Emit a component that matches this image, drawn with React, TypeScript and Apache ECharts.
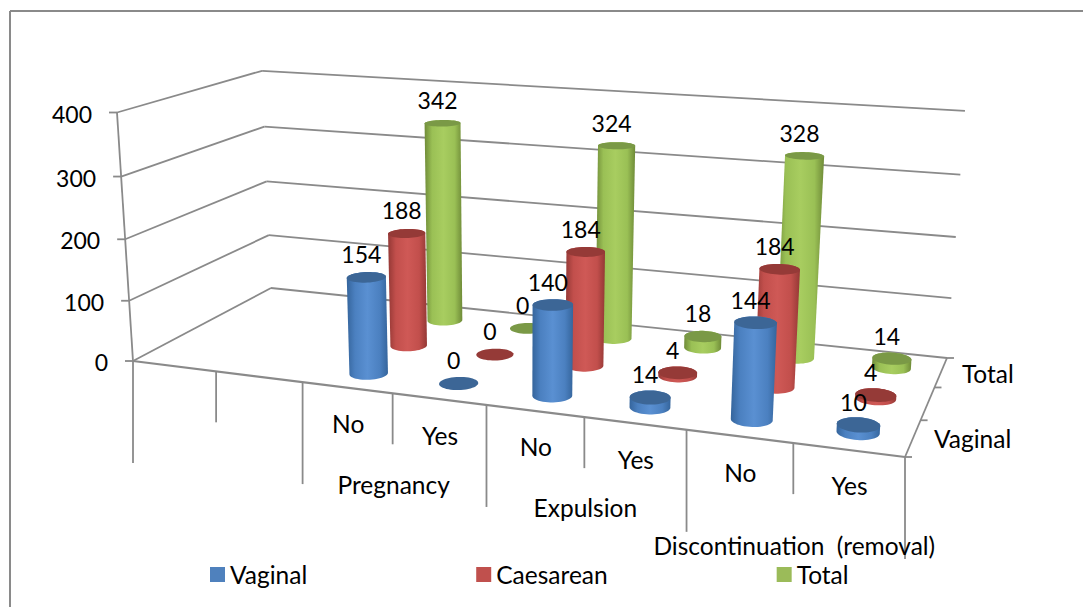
import React, { useEffect, useRef } from "react";
import * as echarts from "echarts";

const categories = ["", "", "No", "Yes", "No", "Yes", "No", "Yes"];
const groups = ["", "Pregnancy", "Expulsion", "Discontinuation  (removal)"];
const seriesNames = ["Vaginal", "Caesarean", "Total"];
const vaginal = [null, null, 154, 0, 140, 14, 144, 10];
const caesarean = [null, null, 188, 0, 184, 4, 184, 4];
const total = [null, null, 342, 0, 324, 18, 328, 14];
const valueTicks = [0, 100, 200, 300, 400];
const depthLabels = ["Vaginal", "", "Total"];

const W = 1083;
const H = 607;
const FONT = "Lato";
const FS = 24.5;
const FS_NUM = 23;
const LINE = "#8a8a8a";
const COLORS = ["#4F81BD", "#C0504D", "#9BBB59"];
const SHADES = [
  { edge: "#35659c", mid: "#4b80c0", light: "#5a90d2", top: "#3c6696" },
  { edge: "#943835", mid: "#c24f4c", light: "#cf5956", top: "#953a37" },
  { edge: "#6f8b38", mid: "#9ac055", light: "#a8cd60", top: "#7a9946" },
];

// Perspective of the 3D box: u along categories, v in depth, w up the value axis (all 0..1)
const P = { x0: 133, y0: 361, xU: 905, yU: 457, xV: 271, yV: 288, xW: 117, yW: 112.5, g: -0.1554, h: 0.1517, i: -0.04 };
function project(u: number, v: number, w: number): [number, number] {
  const { x0, y0, xU, yU, xV, yV, xW, yW, g, h, i } = P;
  const d = 1 + g * u + h * v + i * w;
  const x = x0 + (xU * (1 + g) - x0) * u + (xV * (1 + h) - x0) * v + (xW * (1 + i) - x0) * w;
  const y = y0 + (yU * (1 + g) - y0) * u + (yV * (1 + h) - y0) * v + (yW * (1 + i) - y0) * w;
  return [x / d, y / d + 2.5 * u * v * w];
}

function hull(pts: number[][]) {
  const s = [...pts].sort((a, b) => a[0] - b[0] || a[1] - b[1]);
  const cross = (o: number[], a: number[], b: number[]) => (a[0] - o[0]) * (b[1] - o[1]) - (a[1] - o[1]) * (b[0] - o[0]);
  const lo: number[][] = [];
  for (const p of s) {
    while (lo.length >= 2 && cross(lo[lo.length - 2], lo[lo.length - 1], p) <= 0) lo.pop();
    lo.push(p);
  }
  const up: number[][] = [];
  for (const p of s.slice().reverse()) {
    while (up.length >= 2 && cross(up[up.length - 2], up[up.length - 1], p) <= 0) up.pop();
    up.push(p);
  }
  return lo.slice(0, -1).concat(up.slice(0, -1));
}

const RU = 0.0245;
const RV = 0.068;
function disc(u: number, v: number, w: number) {
  const pts: number[][] = [];
  for (let k = 0; k < 48; k++) {
    const t = (k / 48) * Math.PI * 2;
    pts.push(project(u + RU * Math.cos(t), v + RV * Math.sin(t), w));
  }
  return pts;
}

function toUW(api: any, idx: number, value: number) {
  const p = api.coord([idx, value]);
  return { u: p[0] / W, w: 1 - p[1] / H };
}

function cylinderSeries(s: number, values: (number | null)[]) {
  const v = (s + 0.5) / 3;
  const shade = SHADES[s];
  return {
    type: "custom",
    name: seriesNames[s],
    coordinateSystem: "cartesian2d",
    z: 5 - s,
    itemStyle: { color: COLORS[s] },
    silent: true,
    data: values.map((val, i) => [i, val]),
    encode: { x: 0, y: 1 },
    renderItem: (_: any, api: any) => {
      const val = api.value(1);
      if (val === null || val === undefined || isNaN(val)) return { type: "group", children: [] };
      const { u, w } = toUW(api, api.value(0), val);
      const base = disc(u, v, 0);
      const top = disc(u, v, w);
      const children: any[] = [];
      if (val > 0) {
        const rimB = base.map((p) => [p[0], p[1] + 0.8]);
        children.push({
          type: "polygon",
          shape: { points: hull(rimB.concat(top)) },
          style: {
            fill: new echarts.graphic.LinearGradient(0, 0, 1, 0, [
              { offset: 0, color: shade.edge },
              { offset: 0.2, color: shade.mid },
              { offset: 0.5, color: shade.light },
              { offset: 0.8, color: shade.mid },
              { offset: 1, color: shade.edge },
            ]),
          },
        });
      }
      children.push({ type: "polygon", shape: { points: top }, style: { fill: shade.top } });
      return { type: "group", children };
    },
  };
}

const seriesValues = [vaginal, caesarean, total];
const labelData: number[][] = [];
seriesValues.forEach((vals, s) =>
  vals.forEach((val, i) => {
    if (val !== null) labelData.push([i, val, s]);
  })
);

function line(a: [number, number], b: [number, number], width = 1.8) {
  return {
    type: "line",
    z: 0,
    silent: true,
    shape: { x1: a[0], y1: a[1], x2: b[0], y2: b[1] },
    style: { stroke: LINE, lineWidth: width },
  };
}
function text(str: string, x: number, y: number, align: string, size = FS) {
  return {
    type: "text",
    z: 1,
    silent: true,
    x,
    y,
    style: { text: str, font: `${size}px ${FONT}`, fill: "#000", align, verticalAlign: "middle" },
  };
}

function buildGraphic() {
  const els: any[] = [];
  // outer frame: only top and left edges show
  els.push(line([10, 11], [W, 11], 2));
  els.push(line([10, 11], [10, H], 2));

  // walls
  valueTicks.forEach((t) => {
    const w = t / 400;
    const a = project(0, 0, w);
    const b = project(0, 1, w);
    const c = project(1, 1, w);
    els.push(line(a, b), line(b, c));
    els.push(line([a[0] - 8, a[1]], a));
    els.push(text(String(t), a[0] - 25, a[1] + 1, "right", FS_NUM));
  });
  els.push(line(project(0, 0, 0), project(0, 0, 1)));

  // floor edges
  els.push(line(project(0, 0, 0), project(1, 0, 0), 2.2));
  els.push(line(project(1, 0, 0), project(1, 1, 0)));

  // category ticks and labels
  for (let k = 0; k <= categories.length; k++) {
    const p = project(k / 8, 0, 0);
    els.push(line(p, [p[0], p[1] + (k % 2 === 0 ? 102 : 51)]));
  }
  categories.forEach((c, i) => {
    if (!c) return;
    const p = project((i + 0.5) / 8, 0, 0);
    els.push(text(c, p[0] + 1, p[1] + 36, "center"));
  });
  const groupDrop = [0, 91, 90, 102];
  groups.forEach((g, i) => {
    if (!g) return;
    const p = project((2 * i + 1) / 8, 0, 0);
    els.push(text(g, p[0] + 1, p[1] + groupDrop[i], "center"));
  });

  // depth ticks and labels
  [0, 1 / 3, 2 / 3, 1].forEach((v) => {
    const p = project(1, v, 0);
    els.push(line(p, [p[0] + 7, p[1]]));
  });
  depthLabels.forEach((d, i) => {
    if (!d) return;
    const p = project(1, (i + 0.5) / 3, 0);
    els.push(text(d, p[0] + 21, p[1] + (i === 0 ? 0 : 1), "left"));
  });
  return els;
}

function buildOption() {
  return {
    animation: false,
    backgroundColor: "#fff",
    grid: { left: 0, top: 0, width: W, height: H, containLabel: false },
    xAxis: { type: "category", data: categories.map((c, i) => `${i}:${c}`), show: false },
    yAxis: { type: "value", min: 0, max: 400, interval: 100, show: false },
    legend: {
      data: seriesNames,
      left: 205,
      top: 557,
      icon: "rect",
      itemWidth: 15,
      itemHeight: 15,
      itemGap: 169,
      selectedMode: false,
      textStyle: { fontFamily: FONT, fontSize: FS, color: "#000" },
    },
    graphic: { elements: buildGraphic() },
    series: [
      cylinderSeries(2, total),
      cylinderSeries(1, caesarean),
      cylinderSeries(0, vaginal),
      {
        type: "custom",
        name: "labels",
        coordinateSystem: "cartesian2d",
        z: 10,
        silent: true,
        data: labelData,
        encode: { x: 0, y: 1 },
        renderItem: (_: any, api: any) => {
          const val = api.value(1);
          const { u, w } = toUW(api, api.value(0), val);
          const p = project(u, (api.value(2) + 0.5) / 3, w);
          return {
            type: "text",
            x: p[0] - 5,
            y: p[1] - 23,
            style: { text: String(val), font: `${FS_NUM}px ${FONT}`, fill: "#000", align: "center", verticalAlign: "middle" },
          };
        },
      },
    ],
  };
}

export default function App() {
  const ref = useRef<HTMLDivElement>(null);
  useEffect(() => {
    const chart = echarts.init(ref.current!, null, { renderer: "svg" });
    chart.setOption(buildOption() as any);
    return () => chart.dispose();
  }, []);
  return <div ref={ref} style={{ position: "absolute", left: 0, top: 0, width: W, height: H }} />;
}
